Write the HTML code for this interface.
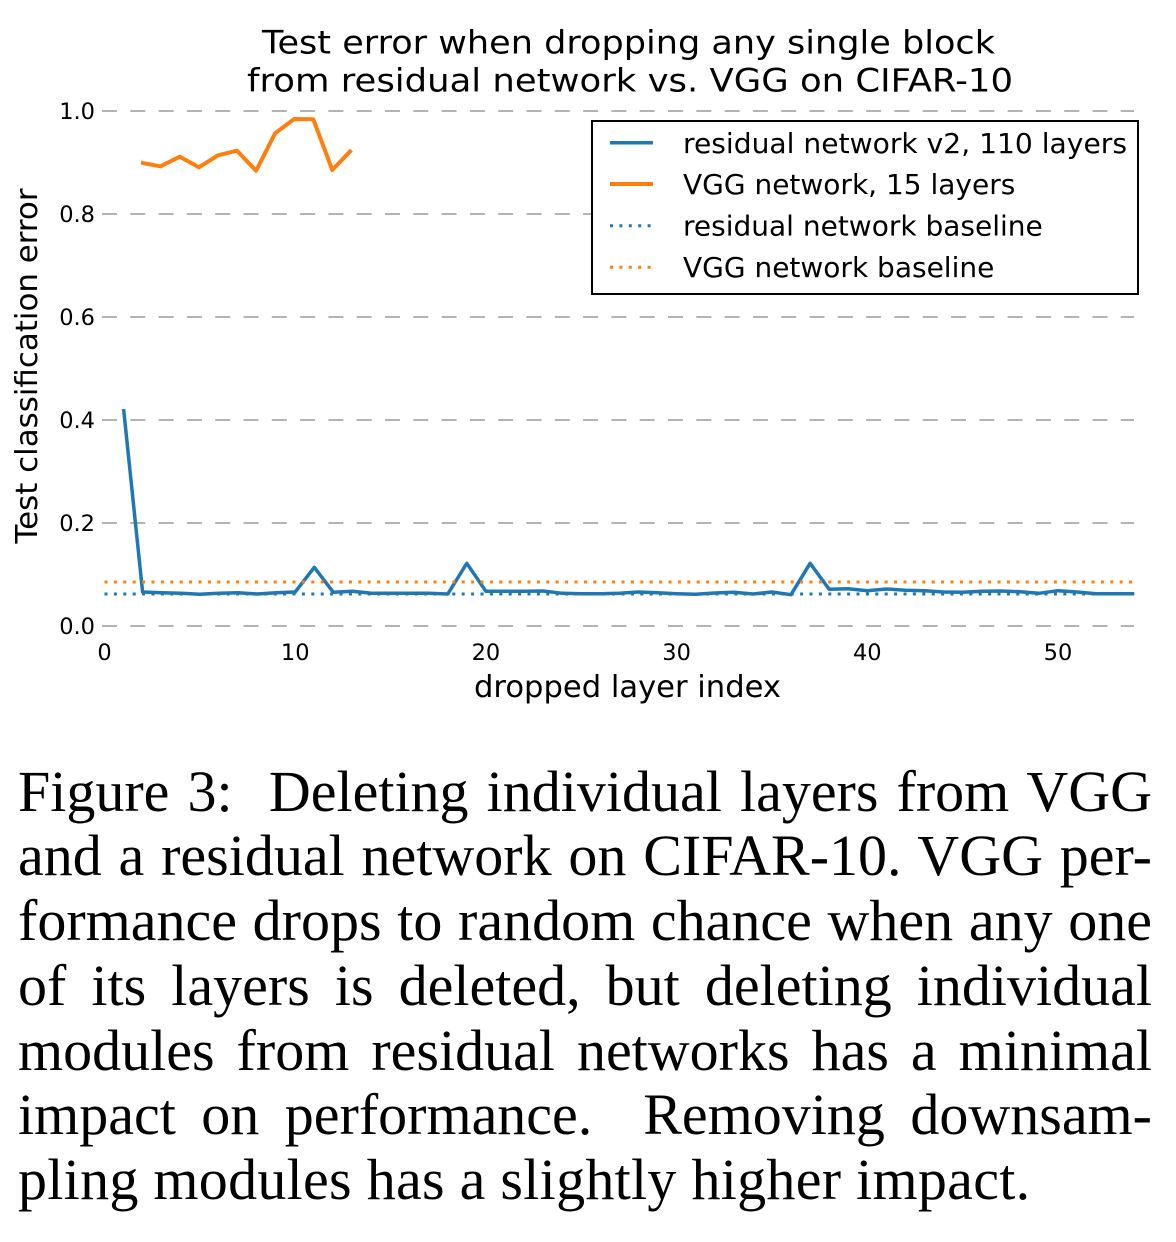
<!DOCTYPE html>
<html>
<head>
<meta charset="utf-8">
<style>
  html, body { margin: 0; padding: 0; background: #fff; }
  #wrap { position: relative; width: 1176px; height: 1242px; overflow: hidden; background: #fff; }
  svg { position: absolute; left: 0; top: 0; }
  #cap { position: absolute; left: 18px; top: 759.8px; width: 1134px;
         font-family: "Liberation Serif", "Times New Roman", serif; font-size: 58px;
         line-height: 64.7px; color: #000; }
  #cap div { width: 1134px; text-align: justify; text-align-last: justify; height: 64.7px; overflow: visible; }
  #cap div.last { text-align: left; text-align-last: left; letter-spacing: 0.28px; }
</style>
</head>
<body>
<div id="wrap">
<svg width="1176" height="740" viewBox="0 0 1176 740" xmlns="http://www.w3.org/2000/svg" font-family="'DejaVu Sans', 'Liberation Sans', sans-serif">
  <!-- title -->
  <text x="262" y="53.3" font-size="32" textLength="733" lengthAdjust="spacingAndGlyphs" fill="#000">Test error when dropping any single block</text>
  <text x="247" y="91.7" font-size="32" textLength="766" lengthAdjust="spacingAndGlyphs" fill="#000">from residual network vs. VGG on CIFAR-10</text>

  <!-- grid -->
  <g stroke="#9a9a9a" stroke-width="1.6" stroke-dasharray="15 13.3" fill="none">
    <line x1="102" y1="111" x2="1134" y2="111"/>
    <line x1="102" y1="214" x2="1134" y2="214"/>
    <line x1="102" y1="317" x2="1134" y2="317"/>
    <line x1="102" y1="420" x2="1134" y2="420"/>
    <line x1="102" y1="523" x2="1134" y2="523"/>
    <line x1="102" y1="626" x2="1134" y2="626"/>
  </g>

  <!-- y tick labels -->
  <g font-size="22.5" text-anchor="end" fill="#000">
    <text x="95" y="119">1.0</text>
    <text x="95" y="222">0.8</text>
    <text x="95" y="325">0.6</text>
    <text x="95" y="428">0.4</text>
    <text x="95" y="531">0.2</text>
    <text x="95" y="634">0.0</text>
  </g>
  <!-- x tick labels -->
  <g font-size="22.5" text-anchor="middle" fill="#000">
    <text x="104.5" y="660">0</text>
    <text x="295.2" y="660">10</text>
    <text x="485.9" y="660">20</text>
    <text x="676.6" y="660">30</text>
    <text x="867.3" y="660">40</text>
    <text x="1058" y="660">50</text>
  </g>

  <!-- axis labels -->
  <text x="474" y="697" font-size="30" textLength="307" lengthAdjust="spacingAndGlyphs" fill="#000">dropped layer index</text>
  <text transform="translate(37,366) rotate(-90)" font-size="30" text-anchor="middle" textLength="355" lengthAdjust="spacingAndGlyphs" fill="#000">Test classification error</text>

  <!-- residual network line -->
  <polyline fill="none" stroke="#1f77b4" stroke-width="3.5" stroke-linejoin="round"
    points="123.6,409 142.6,592 161.7,592.7 180.8,593.3 199.9,594.3 218.9,593.3 238,592.7 257.1,594 276.1,592.7 295.2,592 314.3,567.3 333.3,592.3 352.4,591.3 371.5,593.3 390.6,593.3 409.6,593.3 428.7,593.3 447.8,594 466.8,563.3 485.9,591.3 505,591.3 524,591.3 543.1,591 562.2,593.3 581.3,593.7 600.3,593.7 619.4,593.3 638.5,592 657.5,592.7 676.6,593.7 695.7,594.3 714.7,593 733.8,592.3 752.9,594 772,592 791,594.7 810.1,563.3 829.2,589.3 848.2,588.7 867.3,590.7 886.4,589 905.4,590.3 924.5,590.7 943.6,592 962.7,592.3 981.7,591.3 1000.8,591 1019.9,591.7 1038.9,593.3 1058,590.7 1077.1,592 1096.1,593.7 1115.2,593.7 1134.3,593.7"/>

  <!-- VGG line -->
  <polyline fill="none" stroke="#ff7f0e" stroke-width="4" stroke-linejoin="round"
    points="141,162.7 160.5,166.3 179.8,156.7 198.9,167.3 218,155.3 237,150.7 256.1,170.7 275.1,133.3 294.2,119 313.3,119.3 332.3,170 351.4,150"/>

  <!-- baselines -->
  <line x1="104.5" y1="594" x2="1134" y2="594" stroke="#1f77b4" stroke-width="3" stroke-dasharray="3 6.4"/>
  <line x1="104.5" y1="582" x2="1134" y2="582" stroke="#ff7f0e" stroke-width="3" stroke-dasharray="3 6.4"/>

  <!-- legend -->
  <rect x="592" y="121" width="546" height="173" fill="#fff" stroke="#000" stroke-width="2"/>
  <line x1="610" y1="142.7" x2="653" y2="142.7" stroke="#1f77b4" stroke-width="3.5"/>
  <line x1="610" y1="184" x2="653" y2="184" stroke="#ff7f0e" stroke-width="4"/>
  <line x1="610" y1="225.8" x2="653" y2="225.8" stroke="#1f77b4" stroke-width="3" stroke-dasharray="3 6.4"/>
  <line x1="610" y1="267.2" x2="653" y2="267.2" stroke="#ff7f0e" stroke-width="3" stroke-dasharray="3 6.4"/>
  <g font-size="28" fill="#000">
    <text x="683" y="152.8" textLength="444" lengthAdjust="spacingAndGlyphs">residual network v2, 110 layers</text>
    <text x="683" y="194">VGG network, 15 layers</text>
    <text x="683" y="235.5">residual network baseline</text>
    <text x="683" y="277">VGG network baseline</text>
  </g>
</svg>

<div id="cap">
  <div>Figure 3:&nbsp; Deleting individual layers from VGG</div>
  <div>and a residual network on CIFAR-10. VGG per-</div>
  <div>formance drops to random chance when any one</div>
  <div>of its layers is deleted, but deleting individual</div>
  <div>modules from residual networks has a minimal</div>
  <div>impact on performance.&nbsp; Removing downsam-</div>
  <div class="last">pling modules has a slightly higher impact.</div>
</div>
</div>
</body>
</html>
